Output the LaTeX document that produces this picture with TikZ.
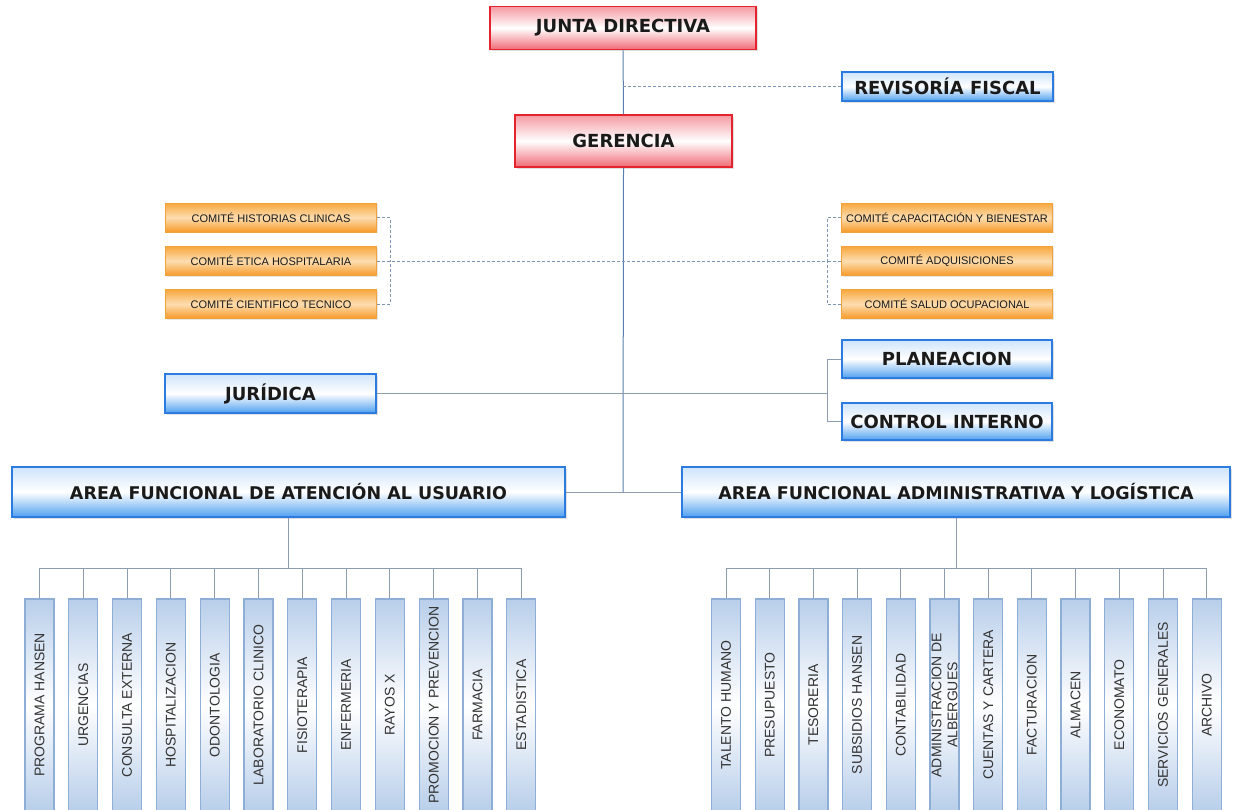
\documentclass[tikz,border=0pt]{standalone}
\usepackage{fontspec}
\setmainfont{DejaVu Sans}
\newfontfamily\arialf{Liberation Sans}
\usetikzlibrary{shadows}
\definecolor{redB}{HTML}{E3242F}
\definecolor{redT}{HTML}{F59AA2}
\definecolor{redBot}{HTML}{F06A76}
\definecolor{bluB}{HTML}{2C7BE0}
\definecolor{bluT}{HTML}{CFE4FB}
\definecolor{bluBot}{HTML}{4FA0F0}
\definecolor{orB}{HTML}{F2A23A}
\definecolor{orT}{HTML}{F8A83E}
\definecolor{orBot}{HTML}{F69A28}
\definecolor{orM}{HTML}{FDDDB0}
\definecolor{smB}{HTML}{8EAED6}
\definecolor{smF}{HTML}{B8CEEA}
\definecolor{mainL}{HTML}{5A7FAE}
\definecolor{greyL}{HTML}{8E9CB0}
\definecolor{dashL}{HTML}{7F95B4}
\definecolor{txt}{HTML}{1A1A1A}
\tikzset{
  bigfont/.style={font=\bfseries\fontsize{18}{21}\selectfont, text=txt},
  areafont/.style={font=\bfseries\fontsize{17.5}{20}\selectfont},
  redbox/.style={rectangle, draw=redB, line width=1.6pt, top color=redT, bottom color=redBot, middle color=white, inner sep=0pt, bigfont, drop shadow={opacity=0.25, shadow xshift=1.5pt, shadow yshift=-1.5pt}},
  bluebox/.style={rectangle, draw=bluB, line width=1.6pt, top color=bluT, bottom color=bluBot, middle color=white, inner sep=0pt, bigfont, drop shadow={opacity=0.25, shadow xshift=1.5pt, shadow yshift=-1.5pt}},
  orbox/.style={rectangle, draw=orB, line width=1pt, top color=orT, bottom color=orBot, middle color=orM, inner sep=0pt, minimum width=211pt, minimum height=29pt, font=\arialf\fontsize{11}{12}\selectfont, text=txt, drop shadow={opacity=0.2, shadow xshift=1pt, shadow yshift=-1pt}},
  smbox/.style={rectangle, draw=smB, line width=1.3pt, top color=smF, bottom color=smF, middle color=white, inner sep=0pt, rotate=90, minimum width=212pt, minimum height=29pt, align=center, font=\arialf\fontsize{14}{16}\selectfont, text=black!80},
  mainline/.style={draw=mainL, line width=1pt},
  conn/.style={draw=greyL, line width=1pt},
  dline/.style={draw=dashL, line width=0.9pt, dash pattern=on 3pt off 2pt},
}
\begin{document}
\begin{tikzpicture}[x=1pt,y=-1pt]
\useasboundingbox (0,0) rectangle (1238,809);
\clip (0,0) rectangle (1238,809);

% top
\node[redbox, minimum width=266pt, minimum height=43pt] (junta) at (623,28) {JUNTA DIRECTIVA};
\node[bluebox, minimum width=211pt, minimum height=29pt] (rev) at (947.5,86.5) {REVISORÍA FISCAL};
\node[redbox, minimum width=217pt, minimum height=52pt] (ger) at (623.5,141) {GERENCIA};

% committees
\node[orbox] (c1) at (271,217.5) {COMITÉ HISTORIAS CLINICAS};
\node[orbox] (c2) at (271,261) {COMITÉ ETICA HOSPITALARIA};
\node[orbox] (c3) at (271,304) {COMITÉ CIENTIFICO TECNICO};
\node[orbox] (c4) at (947,217.5) {COMITÉ CAPACITACIÓN Y BIENESTAR};
\node[orbox] (c5) at (947,261) {COMITÉ ADQUISICIONES};
\node[orbox] (c6) at (947,304) {COMITÉ SALUD OCUPACIONAL};

% staff
\node[bluebox, minimum width=211pt, minimum height=39pt] (jur) at (270.5,393.5) {JURÍDICA};
\node[bluebox, minimum width=210pt, minimum height=38pt] (plan) at (947,359) {PLANEACION};
\node[bluebox, minimum width=210pt, minimum height=37pt] (ci) at (947,421.5) {CONTROL INTERNO};

% areas
\node[bluebox, areafont, minimum width=553pt, minimum height=50pt] (areaL) at (288.5,492) {AREA FUNCIONAL DE ATENCIÓN AL USUARIO};
\node[bluebox, areafont, minimum width=548pt, minimum height=50pt] (areaR) at (956,492) {AREA FUNCIONAL ADMINISTRATIVA Y LOGÍSTICA};

% coordinates
\coordinate (jmid) at (623,492);
\coordinate (revj) at (623,86.5);
\coordinate (dl) at (390,261);
\coordinate (dr) at (827,261);
\coordinate (br) at (827,393.5);
\coordinate (busL) at (0,568);
\coordinate (busR) at (0,568);

% main connectors
\path[mainline] (junta.south) -- (ger.north);
\path[mainline] (ger.south) -- (jmid);
\path[dline] (revj) -- (rev.west);
\path[conn] (areaL.east) -- (areaR.west);

% committee dashed brackets
\path[dline] (c1.east) -| (dl) (c3.east) -| (dl) (c2.east) -- (dr);
\path[dline] (c4.west) -| (dr) (c6.west) -| (dr) (c5.west) -- (dr);

% staff connectors
\path[conn] (jur.east) -- (br);
\path[conn] (plan.west) -| (br) (ci.west) -| (br);

% left units
\foreach \t [count=\i from 0] in {PROGRAMA HANSEN,URGENCIAS,CONSULTA EXTERNA,HOSPITALIZACION,ODONTOLOGIA,LABORATORIO CLINICO,FISIOTERAPIA,ENFERMERIA,RAYOS X,PROMOCION Y PREVENCION,FARMACIA,ESTADISTICA}{
  \node[smbox] (l\i) at (39.5+43.8*\i,705) {\t};
}
\path[conn] (areaL.south) -- (areaL.south |- busL);
\path[conn] (l0 |- busL) -- (l11 |- busL);
\foreach \i in {0,...,11}{ \path[conn] (l\i |- busL) -- (l\i); }

% right units
\foreach \t [count=\i from 0] in {TALENTO HUMANO,PRESUPUESTO,TESORERIA,SUBSIDIOS HANSEN,CONTABILIDAD,{ADMINISTRACION DE\\ALBERGUES},CUENTAS Y CARTERA,FACTURACION,ALMACEN,ECONOMATO,SERVICIOS GENERALES,ARCHIVO}{
  \node[smbox] (r\i) at (726+43.7*\i,705) {\t};
}
\path[conn] (areaR.south) -- (areaR.south |- busR);
\path[conn] (r0 |- busR) -- (r11 |- busR);
\foreach \i in {0,...,11}{ \path[conn] (r\i |- busR) -- (r\i); }
\end{tikzpicture}
\end{document}
